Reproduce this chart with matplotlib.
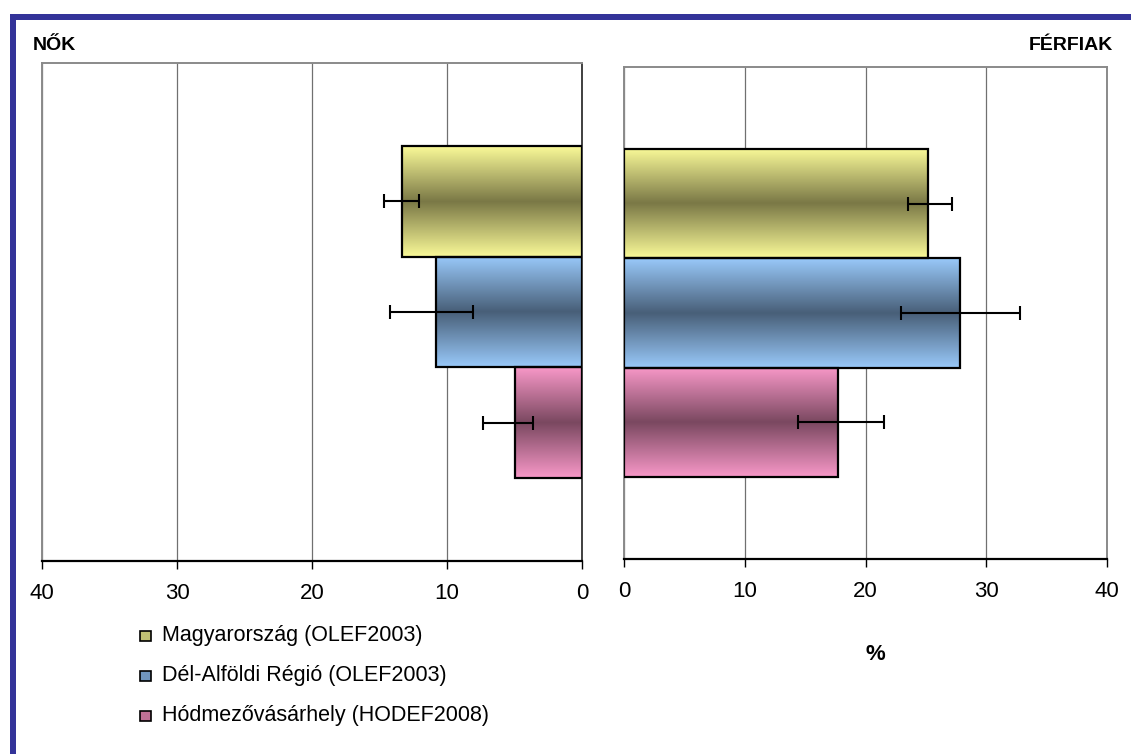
import matplotlib
matplotlib.use('Agg')
import matplotlib.pyplot as plt
import numpy as np
from matplotlib.colors import LinearSegmentedColormap
from matplotlib.patches import Rectangle

# series (one category, three bars per panel)
series = ['Magyarország (OLEF2003)', 'Dél-Alföldi Régió (OLEF2003)',
          'Hódmezővásárhely (HODEF2008)']
women = [13.3, 10.8, 5.0]
women_lo = [12.1, 8.1, 3.6]
women_hi = [14.7, 14.2, 7.3]
men = [25.2, 27.8, 17.7]
men_lo = [23.5, 22.9, 14.4]
men_hi = [27.2, 32.8, 21.5]
ticks = [0, 10, 20, 30, 40]

light = ['#FAFA98', '#99C9FA', '#F898C8']
dark = ['#7A7846', '#485F78', '#7A4860']
mid = ['#C2C274', '#7096BE', '#C07096']

plt.rcParams['font.family'] = ['Liberation Sans', 'DejaVu Sans']
narrow = ['Liberation Sans Narrow', 'Liberation Sans', 'DejaVu Sans']

fig = plt.figure(figsize=(11.31, 7.54), dpi=100)
W, H = 1131, 754


def px(x, y):
    return x / W, 1 - y / H


# blue frame at top and left
fig.add_artist(Rectangle(px(10, 20), (W - 10) / W, 6 / H, transform=fig.transFigure,
                         facecolor='#333399', edgecolor='none'))
fig.add_artist(Rectangle(px(10, H), 6 / W, (H - 14) / H, transform=fig.transFigure,
                         facecolor='#333399', edgecolor='none'))

bar_h = 2 / 9
ypos = [bar_h, 0, -bar_h]


def panel(ax, vals, lo, hi, reverse):
    bars = ax.barh(ypos, vals, height=bar_h, facecolor='none', edgecolor='black',
                   linewidth=1.6, zorder=3)
    grad = np.linspace(0, 1, 256).reshape(-1, 1)
    for b, l, d in zip(bars, light, dark):
        cmap = LinearSegmentedColormap.from_list('g', [l, d, l])
        x0, w = b.get_x(), b.get_width()
        y0, h = b.get_y(), b.get_height()
        ax.imshow(grad, cmap=cmap, extent=(x0, x0 + w, y0, y0 + h),
                  aspect='auto', zorder=2, interpolation='bilinear')
    xerr = [np.array(vals) - np.array(lo), np.array(hi) - np.array(vals)]
    ax.errorbar(vals, ypos, xerr=xerr, fmt='none', ecolor='black', elinewidth=1.5,
                capsize=5, capthick=1.5, zorder=4)
    ax.set_xlim((40, 0) if reverse else (0, 40))
    ax.set_ylim(-0.5, 0.5)
    ax.set_xticks(ticks)
    ax.set_xticklabels([str(t) for t in ticks], fontsize=16, family=narrow)
    ax.set_yticks([])
    ax.tick_params(axis='x', direction='out', length=6, width=1, pad=10)
    ax.xaxis.grid(True, color='#707070', linewidth=0.9)
    ax.set_axisbelow(True)
    for s in ['top', 'left', 'right']:
        ax.spines[s].set_color('#8a8a8a')
        ax.spines[s].set_linewidth(1.4)
    ax.spines['bottom'].set_color('black')
    ax.spines['bottom'].set_linewidth(1.6)


axL = fig.add_axes([42 / W, 1 - 561 / H, 540 / W, 498 / H])
panel(axL, women, women_lo, women_hi, True)
axL.spines['right'].set_color('#404040')

axR = fig.add_axes([624 / W, 1 - 559 / H, 483 / W, 492 / H])
panel(axR, men, men_lo, men_hi, False)

fig.text(*px(33, 45), 'NŐK', fontsize=14, fontweight='bold', ha='left', va='center')
fig.text(*px(1113, 45), 'FÉRFIAK', fontsize=14, fontweight='bold', ha='right', va='center')
fig.text(*px(875, 655), '%', fontsize=16, fontweight='bold', ha='center', va='center')

# legend
for i, (name, c) in enumerate(zip(series, mid)):
    yc = 636 + 40 * i
    fig.add_artist(Rectangle(px(140, yc + 5), 11 / W, 10 / H, transform=fig.transFigure,
                             facecolor=c, edgecolor='black', linewidth=1.2))
    fig.text(*px(162, yc), name, fontsize=15.5, ha='left', va='center')

fig.savefig('out.png', dpi=100)
